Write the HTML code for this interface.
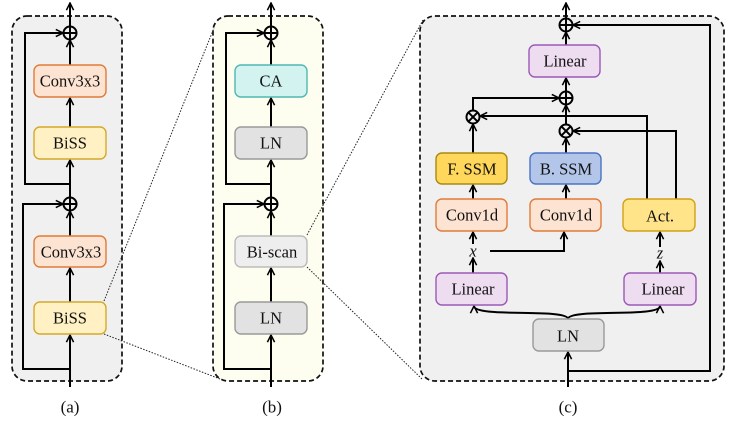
<!DOCTYPE html>
<html><head><style>body{margin:0;background:#fff}svg{display:block}svg text{font-family:'Liberation Serif','Times New Roman','DejaVu Serif',serif !important;font-size:16.5px;text-anchor:middle;dominant-baseline:central;fill:#111}</style></head><body>
<svg width="731" height="422" viewBox="0 0 731 422" xmlns="http://www.w3.org/2000/svg">
<defs><marker id="a" viewBox="0 0 10 10" refX="9" refY="5" markerWidth="9" markerHeight="9" orient="auto-start-reverse" markerUnits="userSpaceOnUse"><path d="M1,1 L9,5 L1,9" fill="none" stroke="#000" stroke-width="1.7"/></marker></defs>
<g stroke="#111" stroke-width="1.7" stroke-dasharray="5,3" fill="#f0f0f0">
<rect x="12" y="16" width="110" height="365" rx="15"/>
<rect x="213" y="16" width="110" height="365" rx="15" fill="#fdfdf0"/>
<rect x="420" y="16" width="304" height="365" rx="15"/>
</g>
<g stroke="#222" stroke-width="1" stroke-dasharray="1.5,1.5" fill="none">
<line x1="104" y1="301" x2="214" y2="28"/><line x1="104" y1="334" x2="220" y2="379"/>
<line x1="307" y1="235" x2="423" y2="20"/><line x1="307" y1="267" x2="422" y2="379"/>
</g>
<g stroke="#000" stroke-width="2" fill="none">
<line x1="70" y1="387" x2="70" y2="335" marker-end="url(#a)"/>
<line x1="70" y1="302" x2="70" y2="268" marker-end="url(#a)"/>
<line x1="70" y1="236" x2="70" y2="211" marker-end="url(#a)"/>
<line x1="70" y1="198" x2="70" y2="160" marker-end="url(#a)"/>
<line x1="70" y1="127" x2="70" y2="98" marker-end="url(#a)"/>
<line x1="70" y1="65" x2="70" y2="40" marker-end="url(#a)"/>
<line x1="70" y1="27" x2="70" y2="3" marker-end="url(#a)"/>
<polyline points="70,369 23,369 23,204 63,204" marker-end="url(#a)"/>
<polyline points="70,184 25,184 25,33 63,33" marker-end="url(#a)"/>
<circle cx="70" cy="33" r="6.5"/><line x1="63.5" y1="33" x2="76.5" y2="33"/><line x1="70" y1="26.5" x2="70" y2="39.5"/>
<circle cx="70" cy="204" r="6.5"/><line x1="63.5" y1="204" x2="76.5" y2="204"/><line x1="70" y1="197.5" x2="70" y2="210.5"/>
<line x1="271" y1="387" x2="271" y2="335" marker-end="url(#a)"/>
<line x1="271" y1="302" x2="271" y2="268" marker-end="url(#a)"/>
<line x1="271" y1="236" x2="271" y2="211" marker-end="url(#a)"/>
<line x1="271" y1="198" x2="271" y2="160" marker-end="url(#a)"/>
<line x1="271" y1="127" x2="271" y2="98" marker-end="url(#a)"/>
<line x1="271" y1="65" x2="271" y2="40" marker-end="url(#a)"/>
<line x1="271" y1="27" x2="271" y2="3" marker-end="url(#a)"/>
<polyline points="271,369 224,369 224,204 264,204" marker-end="url(#a)"/>
<polyline points="271,184 226,184 226,33 264,33" marker-end="url(#a)"/>
<circle cx="271" cy="33" r="6.5"/><line x1="264.5" y1="33" x2="277.5" y2="33"/><line x1="271" y1="26.5" x2="271" y2="39.5"/>
<circle cx="271" cy="204" r="6.5"/><line x1="264.5" y1="204" x2="277.5" y2="204"/><line x1="271" y1="197.5" x2="271" y2="210.5"/>
<line x1="568" y1="387" x2="568" y2="352" marker-end="url(#a)"/>
<polyline points="568,371 710,371 710,25 573,25" marker-end="url(#a)"/>
<path d="M568,319 C568,308 474,318 474,306" marker-end="url(#a)"/>
<path d="M568,319 C568,308 660,318 660,306" marker-end="url(#a)"/>
<line x1="473" y1="273" x2="473" y2="258" marker-end="url(#a)"/>
<line x1="473" y1="244" x2="473" y2="232" marker-end="url(#a)"/>
<polyline points="490,251 564,251 564,232" marker-end="url(#a)"/>
<line x1="660" y1="273" x2="660" y2="261" marker-end="url(#a)"/>
<line x1="660" y1="247" x2="660" y2="232" marker-end="url(#a)"/>
<line x1="473" y1="199" x2="473" y2="185" marker-end="url(#a)"/>
<line x1="566" y1="199" x2="566" y2="185" marker-end="url(#a)"/>
<line x1="473" y1="153" x2="473" y2="124" marker-end="url(#a)"/>
<line x1="566" y1="153" x2="566" y2="138" marker-end="url(#a)"/>
<polyline points="647,199 647,116 480,116" marker-end="url(#a)"/>
<polyline points="676,199 676,131 573,131" marker-end="url(#a)"/>
<polyline points="473,110 473,98 559,98" marker-end="url(#a)"/>
<line x1="566" y1="124" x2="566" y2="105" marker-end="url(#a)"/>
<line x1="566" y1="91" x2="566" y2="78" marker-end="url(#a)"/>
<line x1="566" y1="45" x2="566" y2="32" marker-end="url(#a)"/>
<line x1="566" y1="18" x2="566" y2="3" marker-end="url(#a)"/>
<circle cx="566" cy="25" r="6.5"/><line x1="559.5" y1="25" x2="572.5" y2="25"/><line x1="566" y1="18.5" x2="566" y2="31.5"/>
<circle cx="566" cy="98" r="6.5"/><line x1="559.5" y1="98" x2="572.5" y2="98"/><line x1="566" y1="91.5" x2="566" y2="104.5"/>
<circle cx="473" cy="117" r="6.5"/><line x1="468.4" y1="112.4" x2="477.6" y2="121.6"/><line x1="477.6" y1="112.4" x2="468.4" y2="121.6"/>
<circle cx="566" cy="131" r="6.5"/><line x1="561.4" y1="126.4" x2="570.6" y2="135.6"/><line x1="570.6" y1="126.4" x2="561.4" y2="135.6"/>
</g>
<g stroke-width="1.4">
<rect x="34" y="65" width="72" height="32" rx="6" fill="#fde3d2" stroke="#e07b39"/>
<rect x="34" y="127" width="72" height="32" rx="6" fill="#fff1c4" stroke="#d4a82a"/>
<rect x="34" y="236" width="72" height="31" rx="6" fill="#fde3d2" stroke="#e07b39"/>
<rect x="34" y="302" width="72" height="32" rx="6" fill="#fff1c4" stroke="#d4a82a"/>
<rect x="235" y="65" width="72" height="32" rx="6" fill="#d3f3f0" stroke="#4fb8b0"/>
<rect x="235" y="127" width="72" height="32" rx="6" fill="#e2e2e2" stroke="#999"/>
<rect x="235" y="236" width="72" height="31" rx="6" fill="#eeeeee" stroke="#bbb"/>
<rect x="235" y="302" width="72" height="32" rx="6" fill="#e2e2e2" stroke="#999"/>
<rect x="529" y="45" width="71" height="32" rx="6" fill="#eedcf0" stroke="#9b59b6"/>
<rect x="436" y="153" width="71" height="31" rx="6" fill="#ffd75a" stroke="#a88a10"/>
<rect x="530" y="153" width="71" height="31" rx="6" fill="#b3c6ea" stroke="#4a72c4"/>
<rect x="436" y="199" width="71" height="32" rx="6" fill="#fde3d2" stroke="#e07b39"/>
<rect x="530" y="199" width="71" height="32" rx="6" fill="#fde3d2" stroke="#e07b39"/>
<rect x="623" y="199" width="72" height="32" rx="6" fill="#ffe48a" stroke="#d4a017"/>
<rect x="436" y="273" width="71" height="32" rx="6" fill="#eedcf0" stroke="#9b59b6"/>
<rect x="624" y="273" width="72" height="32" rx="6" fill="#eedcf0" stroke="#9b59b6"/>
<rect x="533" y="319" width="71" height="32" rx="6" fill="#e2e2e2" stroke="#999"/>
</g>
<g font-family="Liberation Serif, serif">
<text x="70" y="81">Conv3x3</text><text x="70" y="143">BiSS</text><text x="71" y="252">Conv3x3</text><text x="70" y="318">BiSS</text>
<text x="271" y="81">CA</text><text x="271" y="143">LN</text><text x="272" y="252">Bi-scan</text><text x="271" y="318">LN</text>
<text x="565" y="61">Linear</text><text x="472" y="169">F. SSM</text><text x="566" y="169">B. SSM</text>
<text x="472" y="215">Conv1d</text><text x="566" y="215">Conv1d</text><text x="660" y="216">Act.</text>
<text x="473" y="289">Linear</text><text x="663" y="289">Linear</text><text x="568" y="336">LN</text>
<text x="473" y="251" font-style="italic">x</text><text x="660" y="253" font-style="italic">z</text>
<text x="70" y="407" style="font-size:17px">(a)</text><text x="272" y="407" style="font-size:17px">(b)</text><text x="568" y="407" style="font-size:17px">(c)</text>
</g>
</svg>
</body></html>
